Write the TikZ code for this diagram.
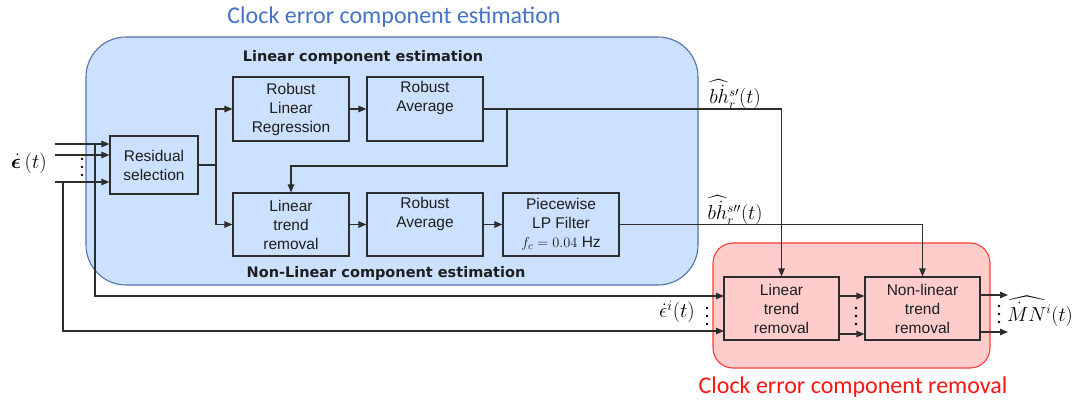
\documentclass[tikz,border=0pt]{standalone}
\usepackage{amsmath,amssymb,bm}
\usepackage{fontspec}
\setmainfont{Liberation Sans}
\newfontfamily\headfont{DejaVu Sans}
\newfontfamily\titlefont{Carlito}
\usetikzlibrary{arrows.meta}
\definecolor{bluefill}{RGB}{204,224,255}
\definecolor{blueline}{RGB}{84,114,170}
\definecolor{bluetitle}{RGB}{68,114,196}
\definecolor{redfill}{RGB}{255,204,204}
\definecolor{redline}{RGB}{255,60,60}
\definecolor{redtitle}{RGB}{255,20,20}
\definecolor{linec}{RGB}{45,45,45}
\definecolor{textc}{RGB}{30,30,30}
\begin{document}
\begin{tikzpicture}[x=1pt,y=-1pt,
  box/.style={draw=linec, line width=1.1pt, minimum width=116pt, minimum height=64pt, align=center, inner sep=0pt, font=\fontsize{15.5}{19}\selectfont, text=textc},
  arr/.style={draw=linec, line width=1.1pt, -{Triangle[length=8pt,width=6.5pt]}},
  ln/.style={draw=linec, line width=1.1pt},
  lab/.style={font=\fontsize{16}{19}\selectfont, inner sep=0pt},
  head/.style={font=\headfont\bfseries\fontsize{14.5}{17}\selectfont, inner sep=0pt, text=textc},
  ttl/.style={font=\titlefont\fontsize{24}{28}\selectfont, inner sep=0pt},
  ]
\useasboundingbox (0,0) rectangle (1075,403);
% regions
\draw[fill=bluefill, draw=blueline, line width=1.1pt, rounded corners=40pt] (86,37) rectangle (698,285);
\draw[fill=redfill, draw=redline, line width=1.1pt, rounded corners=20pt] (713,243) rectangle (990,368);
% titles
\node[ttl, text=bluetitle] (t1) at (394,17) {Clock error component estimation};
\node[ttl, text=redtitle] (t2) at (853,387) {Clock error component removal};
\node[head] (h1) at (363,58) {Linear component estimation};
\node[head] (h2) at (386,273) {Non-Linear component estimation};
% boxes
\node[box, minimum width=88pt, minimum height=58pt] (res) at (154,165) {Residual\\selection};
\node[box] (rlr) at (291,109) {Robust\\Linear\\Regression};
\node[box] (ra1) at (425,109) {Robust\\Average\\\strut};
\node[box, minimum height=63pt] (ltr) at (291,224.5) {Linear\\trend\\removal};
\node[box, minimum height=63pt] (ra2) at (425,224.5) {Robust\\Average\\\strut};
\node[box, minimum height=63pt] (plp) at (561,224.5) {Piecewise\\LP Filter\\$f_c = 0.04$ Hz};
\node[box, minimum width=115pt, minimum height=63pt] (rltr) at (781.5,308.5) {Linear\\trend\\removal};
\node[box, minimum width=115pt, minimum height=63pt] (nltr) at (922.5,308.5) {Non-linear\\trend\\removal};
% labels
\node[lab, font=\fontsize{21}{24}\selectfont] (le) at (29,163) {$\dot{\bm{\epsilon}}\,(t)$};
\node[lab] (lb1) at (735,94) {\scalebox{1.17}{$\widehat{b\dot{h}}{}_r^{s\prime}(t)$}};
\node[lab] (lb2) at (735,210) {\scalebox{1.17}{$\widehat{b\dot{h}}{}_r^{s\prime\prime}(t)$}};
\node[lab, font=\fontsize{21}{24}\selectfont] (lei) at (677,312) {$\dot{\epsilon}^i(t)$};
\node[lab] (lmn) at (1040,311) {\scalebox{1.17}{$\widehat{\dot{M}N}{}^i(t)$}};
% inputs
\coordinate (i1) at (55,144);
\coordinate (i2) at (55,155);
\coordinate (i3) at (55,182);
\draw[arr] (i1) -- (i1 -| res.west);
\draw[arr] (i2) -- (i2 -| res.west);
\draw[arr] (i3) -- (i3 -| res.west);
\coordinate (b1) at (95,144);
\coordinate (b3) at (63,182);
\coordinate (r1) at (724,296);
\coordinate (r3) at (724,331);
\draw[arr] (b1) |- (r1);
\draw[arr] (b3) |- (r3);
% estimation
\coordinate (j1) at (216,165);
\draw[ln] (res.east |- j1) -- (j1);
\draw[arr] (j1) |- (rlr.west);
\draw[arr] (j1) |- (ltr.west);
\draw[arr] (rlr) -- (ra1);
\draw[arr] (ra1.east) -| (rltr.north);
\coordinate (j2) at (507,109);
\coordinate (j3) at (507,166);
\draw[arr] (j2) -- (j3) -| (ltr.north);
\draw[arr] (ltr) -- (ra2);
\draw[arr] (ra2) -- (plp);
\draw[arr] (plp.east) -| (nltr.north);
% removal
\coordinate (m1) at (839,296);
\coordinate (m2) at (839,334);
\draw[arr] (m1) -- (m1 -| nltr.west);
\draw[arr] (m2) -- (m2 -| nltr.west);
\coordinate (o1) at (980,295);
\coordinate (o2) at (980,332);
\coordinate (o1e) at (1008,295);
\coordinate (o2e) at (1008,332);
\draw[arr] (o1) -- (o1e);
\draw[arr] (o2) -- (o2e);
% dots
\foreach \x/\y in {82/159,82/167,82/175, 707/308,707/316,707/324, 856/308,856/316,856/324, 999/306,999/314,999/322}
  \fill[black] (\x,\y) circle (1.4pt);
\end{tikzpicture}
\end{document}
